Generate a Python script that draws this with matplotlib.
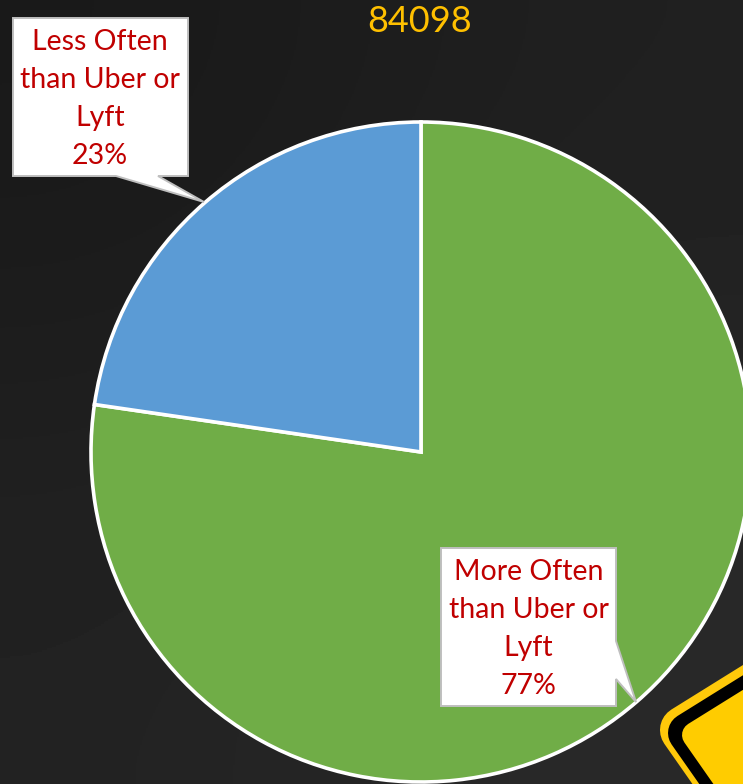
import matplotlib
matplotlib.use("Agg")
import matplotlib.pyplot as plt
import numpy as np
from matplotlib.patches import Polygon

W, H = 743, 784

categories = ["More Often\nthan Uber or\nLyft", "Less Often\nthan Uber or\nLyft"]
values = [77.3, 22.7]
colors = ["#70AD47", "#5B9BD5"]
title = "84098"


def fy(y):
    # picture pixels count from the top, the axes from the bottom
    return H - y


def callout(points, text_x, text_y, label):
    pts = [(x, fy(y)) for x, y in points]
    ax.add_patch(Polygon(pts, closed=True, fc="white", ec="#BFBFBF", lw=1.4, zorder=5))
    ax.text(text_x, fy(text_y), label, color="#C00000", fontsize=fs, ha="center",
            va="center", linespacing=1.56, zorder=6)


plt.rcParams["font.family"] = ["Lato", "DejaVu Sans"]
fs = 20.5

fig = plt.figure(figsize=(W / 100, H / 100), dpi=100)
ax = fig.add_axes([0, 0, 1, 1])

# dark backdrop, a bit lighter towards the lower right
bg = np.array([[0.098, 0.125], [0.135, 0.165]])
ax.imshow(bg, cmap="gray", vmin=0, vmax=1, extent=[0, W, 0, H], origin="upper",
          interpolation="bicubic", aspect="auto", zorder=0)

ax.pie(values, colors=colors, startangle=90, counterclock=False, center=(421, fy(452)),
       radius=330, frame=True, wedgeprops=dict(edgecolor="white", linewidth=2.6, zorder=2))
ax.set_xlim(0, W)
ax.set_ylim(0, H)
ax.set_aspect("auto")
ax.axis("off")

ax.text(420, fy(21), title, color="#FFC000", fontsize=26, ha="center", va="center", zorder=6)

callout([(13, 18), (188, 18), (188, 176), (158, 176), (204, 202), (116, 176), (13, 176)],
        100, 99, categories[1] + "\n%.0f%%" % values[1])
callout([(441, 548), (616, 548), (616, 641), (636, 702), (616, 679), (616, 706), (441, 706)],
        528.5, 629, categories[0] + "\n%.0f%%" % values[0])

# warning sign cut off by the corner of the picture: rim, black band, face
sign_layers = [((684, 730), 34.6, "#FFC90A"), ((688, 733), 28.8, "black"), ((695, 735), 18.7, "#FFCC00")]
for (cx, cy), width, col in sign_layers:
    corners = [(cx, cy), (cx + 127, cy - 79), (cx + 213, cy + 44), (cx + 86, cy + 123)]
    ax.add_patch(Polygon([(x, fy(y)) for x, y in corners], closed=True, fc=col, ec=col,
                         lw=width, joinstyle="round", zorder=4))

fig.savefig("out.png", dpi=100)
